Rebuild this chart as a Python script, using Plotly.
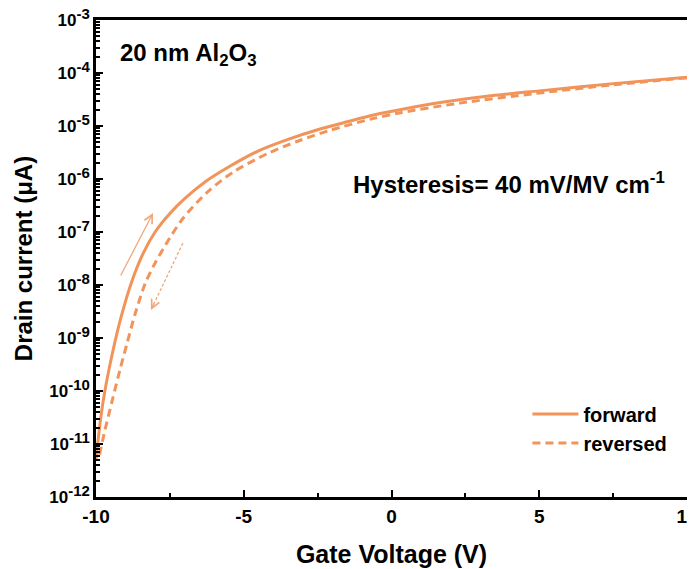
import plotly.graph_objects as go

# ---------------- data ----------------
forward_v = [-10.0, -9.85, -9.7, -9.45, -9.15, -8.8, -8.4, -8.0, -7.5, -7.0, -6.3, -5.5,
             -4.5, -3.5, -2.5, -1.5, -0.5, 0.5, 2.0, 3.5, 5.0, 7.5, 10.0]
forward_i = [5.0e-12, 2.8e-11, 1.0e-10, 5.0e-10, 2.5e-9, 1.12e-8, 4.0e-8, 1.0e-7, 2.24e-7,
             4.27e-7, 8.9e-7, 1.7e-6, 3.4e-6, 5.6e-6, 8.5e-6, 1.2e-5, 1.66e-5, 2.14e-5,
             2.95e-5, 3.8e-5, 4.6e-5, 6.3e-5, 8.3e-5]

reversed_v = [-9.88, -9.7, -9.46, -9.19, -8.95, -8.68, -8.34, -8.0, -7.6, -7.06, -6.24,
              -5.36, -4.21, -3.2, -2.08, -0.63, 0.3, 2.3, 4.86, 7.5, 10.0]
reversed_i = [6.3e-12, 1.8e-11, 6.3e-11, 2.5e-10, 7.9e-10, 2.8e-9, 1.05e-8, 2.6e-8, 6.3e-8,
              1.8e-7, 5.6e-7, 1.35e-6, 3.0e-6, 5.1e-6, 8.3e-6, 1.38e-5, 1.78e-5, 2.7e-5,
              4.1e-5, 6.0e-5, 8.1e-5]

x_ticks = [-10, -5, 0, 5, 10]
x_ticklabels = ["-10", "-5", "0", "5", "10"]
y_exponents = [-12, -11, -10, -9, -8, -7, -6, -5, -4, -3]

# sweep-direction arrows (gate voltage, log10 current): start -> end
fwd_arrow = [(-9.19, -7.85), (-8.07, -6.64)]
rev_arrow = [(-7.06, -7.21), (-8.14, -8.47)]

ORANGE = "#F2945A"
ARROW = "#F2A77A"
FONT = "Liberation Sans, Arial, sans-serif"

y_tickvals = [10.0 ** e for e in y_exponents]
y_ticktext = ["10<sup><span style='font-size:15px'>%d</span></sup>" % e for e in y_exponents]
y_minor = [m * 10.0 ** e for e in y_exponents[:-1] for m in range(2, 10)]

fig = go.Figure()
fig.add_trace(go.Scatter(x=forward_v, y=forward_i, mode="lines", name="forward",
                         legendgroup="a",
                         line=dict(color=ORANGE, width=3, shape="spline", smoothing=0.8)))
fig.add_trace(go.Scatter(x=reversed_v, y=reversed_i, mode="lines", name="reversed",
                         legendgroup="b",
                         line=dict(color=ORANGE, width=3, dash="8px,5px", shape="spline", smoothing=0.8)))

# dashed arrow shaft
fig.add_trace(go.Scatter(x=[rev_arrow[0][0], rev_arrow[1][0]],
                         y=[10 ** rev_arrow[0][1], 10 ** rev_arrow[1][1]],
                         mode="lines", showlegend=False, hoverinfo="skip",
                         line=dict(color=ARROW, width=1.3, dash="3px,2px")))

annotations = [
    dict(x=fwd_arrow[1][0], y=fwd_arrow[1][1], ax=fwd_arrow[0][0], ay=fwd_arrow[0][1],
         xref="x", yref="y", axref="x", ayref="y", showarrow=True, text="",
         arrowhead=5, arrowsize=1.3, arrowwidth=1.3, arrowcolor=ARROW),
    dict(x=rev_arrow[1][0], y=rev_arrow[1][1],
         ax=rev_arrow[1][0] + 0.13, ay=rev_arrow[1][1] + 0.15,
         xref="x", yref="y", axref="x", ayref="y", showarrow=True, text="",
         arrowhead=5, arrowsize=1.3, arrowwidth=1.3, arrowcolor=ARROW),
    dict(x=0.037, y=0.927, xref="paper", yref="paper", xanchor="left", yanchor="middle",
         text="<b>20 nm Al<sub>2</sub>O<sub>3</sub></b>", showarrow=False,
         font=dict(family=FONT, size=24, color="black")),
    dict(x=0.966, y=0.658, xref="paper", yref="paper", xanchor="right", yanchor="middle",
         text="<b>Hysteresis= 40 mV/MV cm<sup>-1</sup></b>", showarrow=False,
         font=dict(family=FONT, size=24, color="black")),
]

# the page body adds an 8 px offset; figure sized so the plot frame lands where the reference has it
fig.update_layout(
    width=687, height=561,
    margin=dict(l=88, r=8, t=12, b=72),
    paper_bgcolor="white", plot_bgcolor="white",
    font=dict(family=FONT, color="black", size=16, weight="bold"),
    annotations=annotations,
    legend=dict(x=0.73, y=0.215, xanchor="left", yanchor="top",
                bgcolor="rgba(0,0,0,0)", font=dict(family=FONT, size=20, weight="bold"),
                tracegroupgap=0, itemwidth=46, traceorder="grouped"),
)
fig.update_xaxes(
    range=[-10, 10], tickvals=x_ticks, ticktext=x_ticklabels, automargin=False,
    ticklabeloverflow="allow",
    ticks="inside", ticklen=7, tickwidth=2, tickcolor="black",
    showline=True, linewidth=2.5, linecolor="black", mirror=True,
    showgrid=False, zeroline=False,
    tickfont=dict(family=FONT, size=19, weight="bold"),
    minor=dict(tickvals=[-7.5, -2.5, 2.5, 7.5], ticks="inside", ticklen=4,
               tickwidth=2, tickcolor="black", showgrid=False),
    title=dict(text="Gate Voltage (V)", font=dict(family=FONT, size=25, weight="bold"), standoff=20),
)
fig.update_yaxes(
    type="log", range=[-12, -3], tickvals=y_tickvals, ticktext=y_ticktext, automargin=False,
    ticklabeloverflow="allow",
    ticks="inside", ticklen=7, tickwidth=2, tickcolor="black",
    showline=True, linewidth=2.5, linecolor="black", mirror=True,
    showgrid=False, zeroline=False,
    tickfont=dict(family=FONT, size=17, weight="bold"),
    minor=dict(tickvals=y_minor, ticks="inside", ticklen=4, tickwidth=1.5,
               tickcolor="black", showgrid=False),
    title=dict(text="Drain current (μA)", font=dict(family=FONT, size=24, weight="bold"), standoff=10),
)

fig.write_html("out.html")
